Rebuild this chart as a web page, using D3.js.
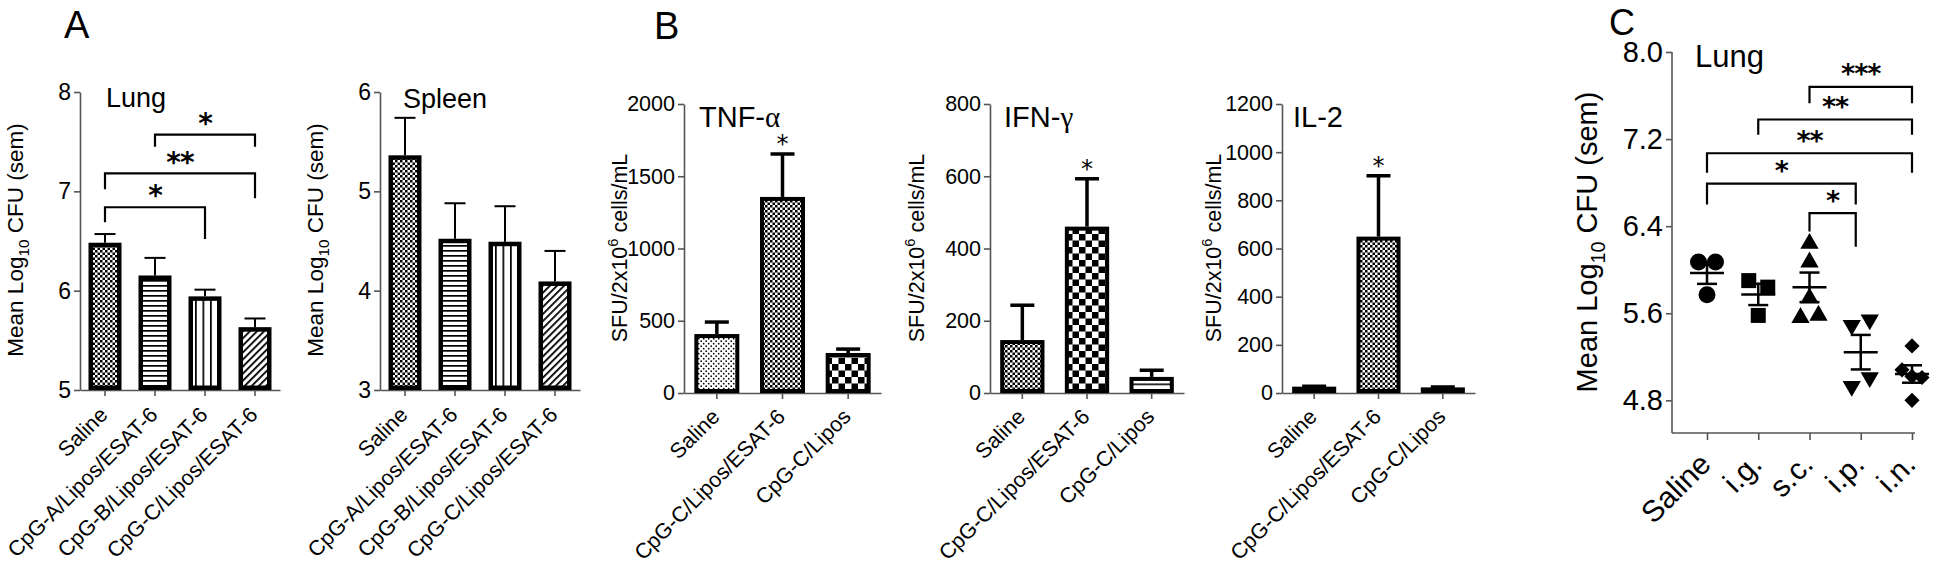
<!DOCTYPE html>
<html><head><meta charset="utf-8">
<script src="https://cdn.jsdelivr.net/npm/d3@7"></script>
<style>
body{margin:0;background:#fff;}
svg{display:block;font-family:"Liberation Sans",Arial,Helvetica,sans-serif;}
</style></head><body>
<svg id="chart" width="1950" height="566"></svg>
<script>
// ---------------- DATA ----------------
const organCats = ["Saline", "CpG-A/Lipos/ESAT-6", "CpG-B/Lipos/ESAT-6", "CpG-C/Lipos/ESAT-6"];
const lungMean = [6.46, 6.13, 5.92, 5.61];
const lungSem = [0.11, 0.20, 0.09, 0.11];
const spleenMean = [5.34, 4.50, 4.47, 4.07];
const spleenSem = [0.40, 0.38, 0.38, 0.33];
const lungTicks = [5, 6, 7, 8];
const spleenTicks = [3, 4, 5, 6];
const lungSigPairs = [[0, 2], [0, 3], [1, 3]];
const lungSigLabels = ["*", "**", "*"];
const lungSigLevel = [6.84, 7.18, 7.57];
const lungSigLegs = [[6.69, 6.52], [7.02, 6.93], [7.45, 7.45]];

const cytoCats = ["Saline", "CpG-C/Lipos/ESAT-6", "CpG-C/Lipos"];
const tnfMean = [394, 1343, 263];
const tnfSem = [97, 311, 41];
const ifnMean = [141, 455, 39];
const ifnSem = [102, 138, 24];
const il2Mean = [18, 641, 15];
const il2Sem = [10, 261, 10];
const tnfTicks = [0, 500, 1000, 1500, 2000];
const ifnTicks = [0, 200, 400, 600, 800];
const il2Ticks = [0, 200, 400, 600, 800, 1000, 1200];
const cytoSig = ["", "*", ""];

const routeCats = ["Saline", "i.g.", "s.c.", "i.p.", "i.n."];
const cSaline = [6.07, 6.07, 5.77];
const cIg = [5.90, 5.84, 5.58];
const cSc = [6.24, 6.07, 5.74, 5.56, 5.58];
const cIp = [5.49, 5.54, 4.93, 5.01];
const cIn = [5.30, 5.08, 5.02, 5.01, 4.80];
const cTicks = [4.8, 5.6, 6.4, 7.2, 8.0];
const cSigPairs = [[2, 4], [1, 4], [0, 4], [0, 3], [2, 3]];
const cSigLabels = ["***", "**", "**", "*", "*"];
const cSigLevel = [7.68, 7.38, 7.07, 6.79, 6.52];
const cSigLegs = [[7.53, 7.53], [7.24, 7.24], [6.89, 6.89], [6.60, 6.60], [6.35, 6.21]];

// ---------------- SETUP ----------------
const svg = d3.select("#chart");
const defs = svg.append("defs");
function pat(id, w, h, draw, tr) {
  const p = defs.append("pattern").attr("id", id).attr("patternUnits", "userSpaceOnUse")
    .attr("width", w).attr("height", h);
  if (tr) p.attr("patternTransform", tr);
  p.append("rect").attr("width", w).attr("height", h).attr("fill", "#fff");
  draw(p);
}
pat("fineChk", 5, 5, p => {
  p.append("rect").attr("width", 2.5).attr("height", 2.5);
  p.append("rect").attr("x", 2.5).attr("y", 2.5).attr("width", 2.5).attr("height", 2.5);
});
pat("coarseChk", 13, 13, p => {
  p.append("rect").attr("width", 6.5).attr("height", 6.5);
  p.append("rect").attr("x", 6.5).attr("y", 6.5).attr("width", 6.5).attr("height", 6.5);
});
pat("hLines", 6, 5, p => p.append("rect").attr("width", 6).attr("height", 1.7));
pat("wideH", 6, 6.5, p => p.append("rect").attr("width", 6).attr("height", 1.6));
pat("vLines", 7.5, 6, p => p.append("rect").attr("width", 1.7).attr("height", 6));
pat("diag", 5, 5, p => p.append("rect").attr("width", 1.8).attr("height", 5), "rotate(45)");
pat("dots", 5, 5, p => {
  p.append("circle").attr("cx", 1.2).attr("cy", 1.2).attr("r", 0.85);
  p.append("circle").attr("cx", 3.7).attr("cy", 3.7).attr("r", 0.85);
});

function styleAxis(ax, fs) {
  ax.attr("font-family", null).attr("font-size", fs);
  ax.selectAll(".domain").attr("stroke", "#555").attr("stroke-width", 1.6);
  ax.selectAll(".tick line").attr("stroke", "#555").attr("stroke-width", 1.6);
  ax.selectAll(".tick text").attr("fill", "#000");
}

function starText(g, cx, cy, label, fs, bold) {
  g.append("text").attr("x", cx).attr("y", cy + 0.58 * fs).attr("text-anchor", "middle")
    .attr("font-family", "'DejaVu Sans',sans-serif")
    .attr("font-size", fs).attr("font-weight", bold ? "bold" : "normal")
    .attr("letter-spacing", bold ? -1 : 0).text(label);
}

function yLabel(g, x, y, fs, parts) {
  const t = g.append("text").attr("transform", `translate(${x},${y}) rotate(-90)`)
    .attr("text-anchor", "middle").attr("font-size", fs);
  parts.forEach(p => {
    const s = t.append("tspan").text(p.t);
    if (p.sub) s.attr("font-size", fs * 0.68).attr("dy", fs * 0.28);
    if (p.sup) s.attr("font-size", fs * 0.68).attr("dy", -fs * 0.42);
    if (p.back) s.attr("dy", p.back * fs);
  });
}

function title(g, x, y, fs, main, greek) {
  const t = g.append("text").attr("x", x).attr("y", y).attr("font-size", fs).text(main);
  if (greek) t.append("tspan").attr("font-family", "'Liberation Serif','Times New Roman',serif").text(greek);
}

// ---------------- BAR PANELS ----------------
function barPanel(c) {
  const g = svg.append("g");
  const x = d3.scaleBand().domain(c.cats).range(c.xr).paddingInner(c.pad).paddingOuter(c.pad / 2);
  const y = d3.scaleLinear().domain(c.yd).range(c.yr);
  const yAx = g.append("g").attr("transform", `translate(${c.xr[0]},0)`)
    .call(d3.axisLeft(y).tickValues(c.yt).tickSize(6).tickSizeOuter(0).tickPadding(3).tickFormat(d3.format("d")));
  styleAxis(yAx, c.tfs);
  const xAx = g.append("g").attr("transform", `translate(0,${c.yr[0]})`)
    .call(d3.axisBottom(x).tickSize(6).tickSizeOuter(0));
  styleAxis(xAx, c.xfs);
  xAx.selectAll(".tick text").attr("y", 0).attr("dy", 0).attr("text-anchor", "end")
    .attr("transform", `translate(${c.lx},${c.ly}) rotate(-45)`);
  const sw = c.sw;
  const bw = x.bandwidth();
  c.means.forEach((m, i) => {
    const bx = x(c.cats[i]);
    g.append("rect").attr("x", bx + sw / 2).attr("y", y(m)).attr("width", bw - sw)
      .attr("height", Math.max(0, y(c.yd[0]) - y(m) - sw / 2))
      .attr("fill", `url(#${c.pats[i]})`).attr("stroke", "#000").attr("stroke-width", sw);
    const cx = bx + bw / 2, top = y(m + c.sems[i]);
    g.append("line").attr("x1", cx).attr("x2", cx).attr("y1", y(m) - sw / 2).attr("y2", top)
      .attr("stroke", "#000").attr("stroke-width", c.ew);
    g.append("line").attr("x1", cx - c.cw / 2).attr("x2", cx + c.cw / 2).attr("y1", top).attr("y2", top)
      .attr("stroke", "#000").attr("stroke-width", c.ew);
    if (c.sig && c.sig[i]) starText(g, cx, top - 16, c.sig[i], 24, false);
  });
  if (c.pairs) {
    c.pairs.forEach((pr, k) => {
      const xa = x(c.cats[pr[0]]) + bw / 2, xb = x(c.cats[pr[1]]) + bw / 2;
      const ly = y(c.level[k]);
      g.append("path").attr("d", `M${xa},${y(c.legs[k][0])}V${ly}H${xb}V${y(c.legs[k][1])}`)
        .attr("fill", "none").attr("stroke", "#000").attr("stroke-width", 2.2);
      starText(g, (xa + xb) / 2, ly - 18, c.labels[k], 28, true);
    });
  }
  return g;
}

const labA = [{t: "Mean Log"}, {t: "10", sub: true}, {t: " CFU (sem)", back: -0.28}];
const gA1 = barPanel({cats: organCats, means: lungMean, sems: lungSem, pats: ["fineChk", "hLines", "vLines", "diag"],
  xr: [80, 280], yr: [390, 92], yd: [5, 8], yt: lungTicks, pad: 0.34, sw: 4.5, ew: 2, cw: 21,
  tfs: 23, xfs: 21.5, lx: 4, ly: 26, pairs: lungSigPairs, labels: lungSigLabels, level: lungSigLevel, legs: lungSigLegs});
title(gA1, 106, 107, 27, "Lung");
yLabel(gA1, 23, 240, 22.5, labA);

const gA2 = barPanel({cats: organCats, means: spleenMean, sems: spleenSem, pats: ["fineChk", "hLines", "vLines", "diag"],
  xr: [380, 580], yr: [390, 92], yd: [3, 6], yt: spleenTicks, pad: 0.34, sw: 4.5, ew: 2, cw: 21,
  tfs: 23, xfs: 21.5, lx: 4, ly: 26});
title(gA2, 403, 108, 27, "Spleen");
yLabel(gA2, 323, 240, 22.5, labA);

const sfuParts = [{t: "SFU/2x10"}, {t: "6", sup: true}, {t: " cells/mL", back: 0.42}];
const gB1 = barPanel({cats: cytoCats, means: tnfMean, sems: tnfSem, pats: ["dots", "fineChk", "coarseChk"],
  xr: [684, 881], yr: [393, 104], yd: [0, 2000], yt: tnfTicks, pad: 0.315, sw: 4, ew: 3.5, cw: 24,
  tfs: 21.5, xfs: 21.5, lx: 4, ly: 25, sig: cytoSig});
title(gB1, 699, 127, 29, "TNF-", "α");
yLabel(gB1, 627, 248, 21.5, sfuParts);

const gB2 = barPanel({cats: cytoCats, means: ifnMean, sems: ifnSem, pats: ["fineChk", "coarseChk", "wideH"],
  xr: [990, 1184], yr: [393, 104], yd: [0, 800], yt: ifnTicks, pad: 0.315, sw: 4, ew: 3.5, cw: 24,
  tfs: 21.5, xfs: 21.5, lx: 4, ly: 25, sig: cytoSig});
title(gB2, 1004, 127, 29, "IFN-", "γ");
yLabel(gB2, 924, 248, 21.5, sfuParts);

const gB3 = barPanel({cats: cytoCats, means: il2Mean, sems: il2Sem, pats: ["fineChk", "fineChk", "fineChk"],
  xr: [1282, 1475], yr: [393, 104], yd: [0, 1200], yt: il2Ticks, pad: 0.315, sw: 4, ew: 3.5, cw: 24,
  tfs: 21.5, xfs: 21.5, lx: 4, ly: 25, sig: cytoSig});
title(gB3, 1293, 127, 29, "IL-2");
yLabel(gB3, 1221, 248, 21.5, sfuParts);

// ---------------- PANEL C ----------------
(function () {
  const g = svg.append("g");
  const groups = [cSaline, cIg, cSc, cIp, cIn];
  const x = d3.scalePoint().domain(routeCats).range([1707, 1912]);
  const y = d3.scaleLinear().domain([4.5, 8.0]).range([433, 52]);
  const axX = 1672;
  const yAx = g.append("g").attr("transform", `translate(${axX},0)`)
    .call(d3.axisLeft(y).tickValues(cTicks).tickSize(6).tickSizeOuter(0).tickPadding(3).tickFormat(d3.format(".1f")));
  styleAxis(yAx, 29);
  yAx.select(".domain").remove();
  g.append("line").attr("x1", axX).attr("x2", axX).attr("y1", y(8.0)).attr("y2", y(4.5))
    .attr("stroke", "#555").attr("stroke-width", 1.6);
  const xAx = g.append("g").attr("transform", `translate(0,${y(4.5)})`)
    .call(d3.axisBottom(x).tickSize(7).tickSizeOuter(0));
  styleAxis(xAx, 30);
  xAx.select(".domain").remove();
  g.append("line").attr("x1", axX).attr("x2", x(routeCats[4]) + 3).attr("y1", y(4.5)).attr("y2", y(4.5))
    .attr("stroke", "#555").attr("stroke-width", 1.6);
  xAx.selectAll(".tick text").attr("y", 0).attr("dy", 0).attr("text-anchor", "end")
    .attr("transform", "translate(5,33) rotate(-45)");

  const shapes = [
    {type: d3.symbolCircle, size: 227, rot: 0, sp: 17},
    {type: d3.symbolSquare, size: 225, rot: 0, sp: 19},
    {type: d3.symbolTriangle, size: 145, rot: 0, sp: 18},
    {type: d3.symbolTriangle, size: 145, rot: 180, sp: 18},
    {type: d3.symbolSquare, size: 115, rot: 45, sp: 10}
  ];
  groups.forEach((vals, gi) => {
    const cx = x(routeCats[gi]);
    // group overlapping points into rows and centre each row (scatter dot plot layout)
    const idx = vals.map((v, i) => i).sort((a, b) => vals[b] - vals[a]);
    const clusters = [];
    idx.forEach(i => {
      const last = clusters[clusters.length - 1];
      if (last && Math.abs(y(vals[last[0]]) - y(vals[i])) < 14) last.push(i); else clusters.push([i]);
    });
    const off = new Array(vals.length).fill(0);
    clusters.forEach(cl => {
      cl.sort((a, b) => a - b);
      cl.forEach((i, k) => off[i] = (k - (cl.length - 1) / 2) * shapes[gi].sp);
    });
    const sym = d3.symbol().type(shapes[gi].type).size(shapes[gi].size);
    vals.forEach((v, i) => {
      g.append("path").attr("d", sym())
        .attr("transform", `translate(${cx + off[i]},${y(v)}) rotate(${shapes[gi].rot})`)
        .attr("fill", "#000");
    });
    const m = d3.mean(vals), sem = d3.deviation(vals) / Math.sqrt(vals.length);
    g.append("line").attr("x1", cx - 17).attr("x2", cx + 17).attr("y1", y(m)).attr("y2", y(m))
      .attr("stroke", "#000").attr("stroke-width", 2.5);
    g.append("line").attr("x1", cx).attr("x2", cx).attr("y1", y(m + sem)).attr("y2", y(m - sem))
      .attr("stroke", "#000").attr("stroke-width", 2.5);
    [m + sem, m - sem].forEach(v => g.append("line").attr("x1", cx - 10).attr("x2", cx + 10)
      .attr("y1", y(v)).attr("y2", y(v)).attr("stroke", "#000").attr("stroke-width", 2.5));
  });
  cSigPairs.forEach((pr, k) => {
    const xa = x(routeCats[pr[0]]), xb = x(routeCats[pr[1]]) - (pr[1] === 3 ? 5 : 0);
    const ly = y(cSigLevel[k]);
    g.append("path").attr("d", `M${xa},${y(cSigLegs[k][0])}V${ly}H${xb}V${y(cSigLegs[k][1])}`)
      .attr("fill", "none").attr("stroke", "#000").attr("stroke-width", 2.2);
    starText(g, (xa + xb) / 2, ly - 19, cSigLabels[k], 27, true);
  });
  title(g, 1695, 67, 31, "Lung");
  yLabel(g, 1597, 242, 29, labA);
})();

// ---------------- PANEL LETTERS ----------------
[["A", 64, 38, 38], ["B", 654, 39, 38], ["C", 1609, 35, 36]].forEach(d =>
  svg.append("text").attr("x", d[1]).attr("y", d[2]).attr("font-size", d[3]).text(d[0]));
</script></body></html>
